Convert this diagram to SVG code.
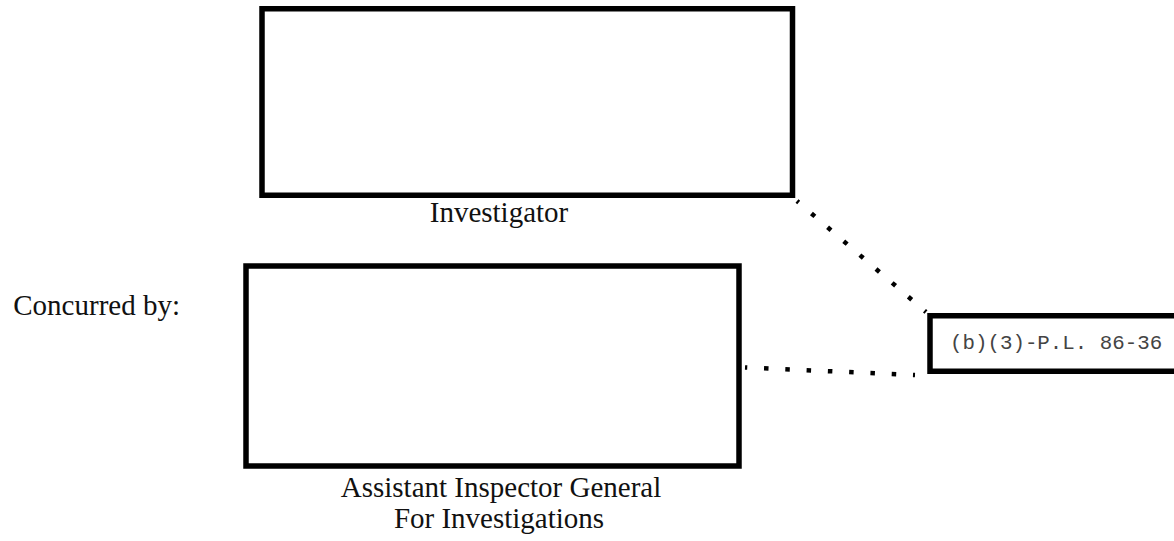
<svg xmlns="http://www.w3.org/2000/svg" width="1174" height="541" viewBox="0 0 1174 541">
  <style>
    .box { fill: #ffffff; stroke: #000000; stroke-width: 5.5; }
    .label { font-family: "Liberation Serif", "Times New Roman", serif; font-size: 29px; fill: #111111; }
    .mono { font-family: "Liberation Mono", "Courier New", monospace; font-size: 20.8px; fill: #444444; }
    .dots { fill: none; stroke: #000000; stroke-width: 4.5; stroke-dasharray: 4.5 16.8; stroke-dashoffset: 2.25; }
  </style>
  <rect x="0" y="0" width="1174" height="541" fill="#ffffff"/>

  <g id="connectors">
    <path class="dots" d="M797,201 L926,312"/>
    <path class="dots" d="M745,367.5 L915,375"/>
  </g>

  <g id="investigator">
    <rect class="box" x="262" y="8.75" width="530.5" height="186.5"/>
    <text class="label" x="499" y="222" text-anchor="middle">Investigator</text>
  </g>

  <g id="concurred-label">
    <text class="label" x="180" y="315" text-anchor="end">Concurred by:</text>
  </g>

  <g id="assistant-ig">
    <rect class="box" x="246" y="266" width="493" height="200"/>
    <text class="label" x="501" y="497" text-anchor="middle">Assistant Inspector General</text>
    <text class="label" x="499" y="528" text-anchor="middle">For Investigations</text>
  </g>

  <g id="redaction">
    <rect class="box" x="930" y="315.75" width="260" height="55.5"/>
    <text class="mono" x="950" y="349">(b)(3)-P.L. 86-36</text>
  </g>
</svg>
